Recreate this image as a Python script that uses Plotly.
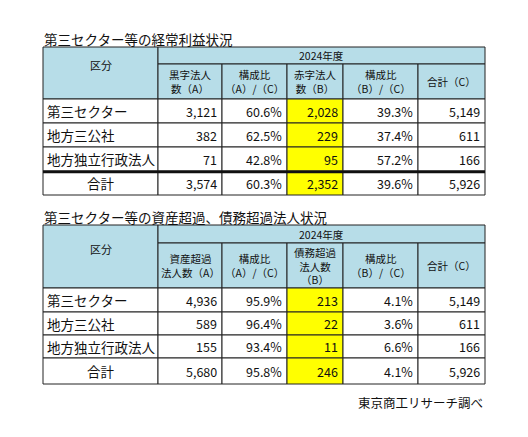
import plotly.graph_objects as go

rows = ["第三セクター", "地方三公社", "地方独立行政法人", "合計"]
t1_title = "第三セクター等の経常利益状況"
t1_heads = ["黒字法人<br>数（A）", "構成比<br>（A）/（C）", "赤字法人<br>数（B）", "構成比<br>（B）/（C）", "合計（C）"]
t1_a = ["3,121", "382", "71", "3,574"]
t1_ar = ["60.6%", "62.5%", "42.8%", "60.3%"]
t1_b = ["2,028", "229", "95", "2,352"]
t1_br = ["39.3%", "37.4%", "57.2%", "39.6%"]
t1_c = ["5,149", "611", "166", "5,926"]

t2_title = "第三セクター等の資産超過、債務超過法人状況"
t2_heads = ["資産超過<br>法人数（A）", "構成比<br>（A）/（C）", "債務超過<br>法人数<br>（B）", "構成比<br>（B）/（C）", "合計（C）"]
t2_a = ["4,936", "589", "155", "5,680"]
t2_ar = ["95.9%", "96.4%", "93.4%", "95.8%"]
t2_b = ["213", "22", "11", "246"]
t2_br = ["4.1%", "3.6%", "6.6%", "4.1%"]
t2_c = ["5,149", "611", "166", "5,926"]
year = "2024年度"
source = "東京商工リサーチ調べ"

W, H = 528, 437
M = 8
F = "Noto Sans CJK JP"
HB = "#b7dde8"
YL = "#ffff00"
cols = [43, 158, 222, 287, 343, 418, 485]

fig = go.Figure()
shapes, ann = [], []

def rect(x0, y0, x1, y1, fill, lw=1):
    shapes.append(dict(type="rect", x0=x0, y0=y0, x1=x1, y1=y1, fillcolor=fill,
                       line=dict(color="#222", width=lw), layer="below"))

def text(x, y, s, size=12.5, xa="center", color="#111"):
    ann.append(dict(x=x, y=y, text=s, showarrow=False, xanchor=xa, yanchor="middle",
                    font=dict(family=F, size=size, color=color)))

def table(title, heads, data, top, yrow, hdr_b, rbs, thick):
    text(cols[0] - 1, top - 8, title, 13.5, "left")
    rect(cols[0], top, cols[1], hdr_b, HB)
    text((cols[0] + cols[1]) / 2, (top + hdr_b) / 2 - 8, "区分", 11)
    rect(cols[1], top, cols[6], yrow, HB)
    text((cols[1] + cols[6]) / 2, (top + yrow) / 2, year, 10.5)
    for j, h in enumerate(heads):
        rect(cols[j + 1], yrow, cols[j + 2], hdr_b, HB)
        text((cols[j + 1] + cols[j + 2]) / 2, (yrow + hdr_b) / 2, h, 10.5)
    prev = hdr_b
    for i, r in enumerate(rows):
        b = rbs[i]
        rect(cols[0], prev, cols[1], b, "white")
        if i == 3:
            text((cols[0] + cols[1]) / 2, (prev + b) / 2, r, 13.5)
        else:
            text(cols[0] + 2, (prev + b) / 2, r, 13.5, "left")
        for j, series in enumerate(data):
            fill = YL if j == 2 else "white"
            rect(cols[j + 1], prev, cols[j + 2], b, fill)
            text(cols[j + 2] - 3, (prev + b) / 2, series[i], 12.5, "right")
        prev = b
    if thick:
        shapes.append(dict(type="line", x0=cols[0], x1=cols[6], y0=rbs[2] + 1, y1=rbs[2] + 1,
                           line=dict(color="#111", width=2.5)))

table(t1_title, t1_heads, [t1_a, t1_ar, t1_b, t1_br, t1_c], 47, 64, 99, [123, 147, 171, 195], True)
table(t2_title, t2_heads, [t2_a, t2_ar, t2_b, t2_br, t2_c], 225, 243, 288, [312, 335, 358, 384], False)
text(cols[6], 402, source, 12.5, "right")

fig.update_layout(width=W - 2 * M, height=H - 2 * M, margin=dict(l=0, r=0, t=0, b=0),
                  plot_bgcolor="white", paper_bgcolor="white",
                  xaxis=dict(range=[M, W - M], visible=False, fixedrange=True),
                  yaxis=dict(range=[H - M, M], visible=False, fixedrange=True),
                  shapes=shapes, annotations=ann, showlegend=False)
fig.write_html("out.html", config={"displayModeBar": False})
